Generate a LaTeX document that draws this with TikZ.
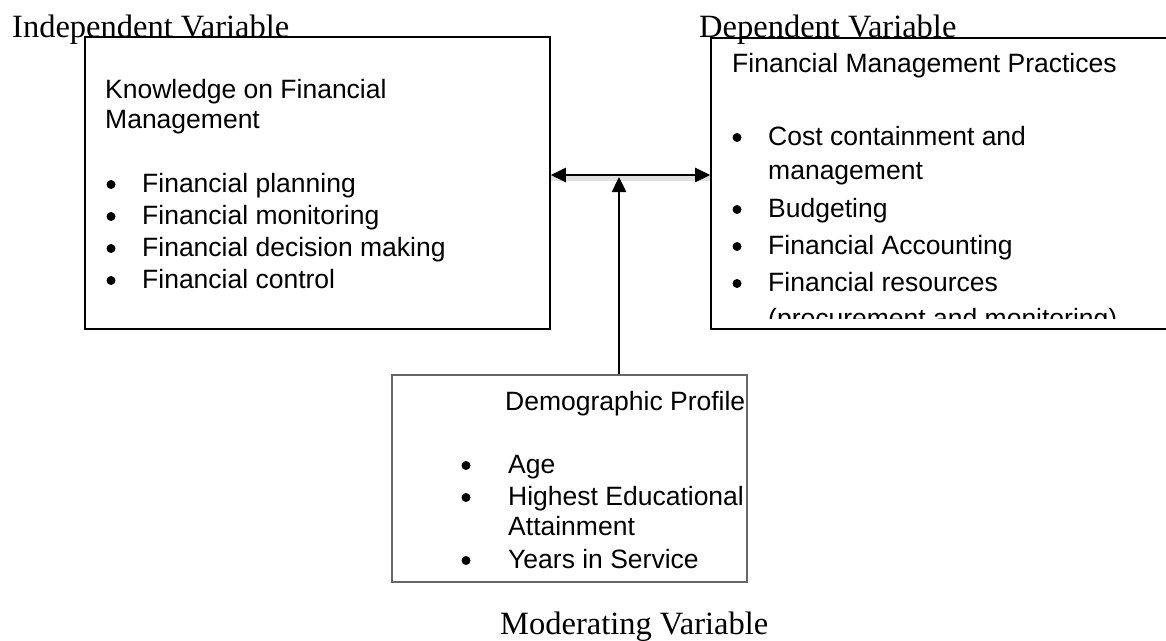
\documentclass[tikz,border=0pt]{standalone}
\usepackage{fontspec}
\setmainfont{Liberation Serif}
\setsansfont{Liberation Sans}
\usetikzlibrary{arrows.meta}
\newcommand\boxfont{\sffamily\fontsize{26.5}{30}\selectfont}
\newcommand\lblfont{\rmfamily\fontsize{32.5}{36}\selectfont}
\tikzset{
  txt/.style={anchor=base west, inner sep=0pt, font=\boxfont},
  bul/.style={circle, fill=black, inner sep=0pt, minimum size=9pt, yshift=7.5pt},
  lbl/.style={anchor=base west, inner sep=0pt, font=\lblfont},
  mainbox/.style={draw=black, line width=1.6pt, fill=none, inner sep=0pt},
  modbox/.style={draw=black!60, line width=1.4pt, inner sep=0pt},
  conn/.style={line width=2.5pt, black},
}
\begin{document}
\begin{tikzpicture}[x=1pt,y=-1pt]
\useasboundingbox (0,0) rectangle (1166,640);
% boxes
\node[mainbox, minimum width=465pt, minimum height=292pt] (lbox) at (317.5,183) {};
\node[mainbox, minimum width=480pt, minimum height=291pt] (rbox) at (951,183.5) {};
\node[modbox, minimum width=355pt, minimum height=207pt] (mbox) at (569.5,478.5) {};
% labels
\node[lbl] (indep) at (12,37) {Independent Variable};
\node[lbl] (dep) at (699,37) {Dependent Variable};
\node[lbl] (moder) at (500,634.5) {Moderating Variable};
% left box text
\node[txt] (k1) at (105,98) {Knowledge on Financial};
\node[txt] (k2) at (105,128) {Management};
\node[bul] (kb1) at (111,192) {};
\node[txt] (kt1) at (142,192) {Financial planning};
\node[bul] (kb2) at (111,224) {};
\node[txt] (kt2) at (142,224) {Financial monitoring};
\node[bul] (kb3) at (111,256) {};
\node[txt] (kt3) at (142,256) {Financial decision making};
\node[bul] (kb4) at (111,288) {};
\node[txt] (kt4) at (142,288) {Financial control};
% right box text
\node[txt] (f1) at (732,72) {Financial Management Practices};
\node[bul] (fb1) at (737,145) {};
\node[txt] (ft1) at (768,145) {Cost containment and};
\node[txt] (ft1b) at (768,179) {management};
\node[bul] (fb2) at (737,217) {};
\node[txt] (ft2) at (768,217) {Budgeting};
\node[bul] (fb3) at (737,254) {};
\node[txt] (ft3) at (768,254) {Financial Accounting};
\node[bul] (fb4) at (737,291) {};
\node[txt] (ft4) at (768,291) {Financial resources};
\begin{scope}
\clip (712,40) rectangle (1170,318);
\node[txt] (ft4b) at (768,327) {(procurement and monitoring)};
\end{scope}
% bottom box text
\node[txt] (d1) at (505,410) {Demographic Profile};
\node[bul] (db1) at (466,473) {};
\node[txt] (dt1) at (508,473) {Age};
\node[bul] (db2) at (466,505) {};
\node[txt] (dt2) at (508,505) {Highest Educational};
\node[txt] (dt2b) at (508,535) {Attainment};
\node[bul] (db3) at (466,568) {};
\node[txt] (dt3) at (508,568) {Years in Service};
% connectors
\coordinate (ay) at (0,175);
\coordinate (vtip) at (619,177);
\draw[line width=5pt, black!12] ([yshift=-3pt]lbox.east |- ay) -- ([yshift=-3pt]rbox.west |- ay);
\draw[conn, {Triangle[length=15pt,width=14pt]}-{Triangle[length=15pt,width=14pt]}] (lbox.east |- ay) -- (rbox.west |- ay);
\draw[conn, -{Triangle[length=15pt,width=14pt]}] (mbox.north -| vtip) -- (vtip);
\end{tikzpicture}
\end{document}
